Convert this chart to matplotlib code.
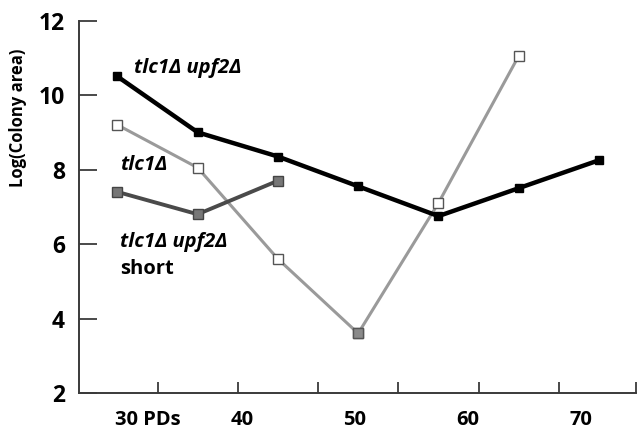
import numpy as np
import matplotlib
matplotlib.use('Agg')
import matplotlib.pyplot as plt
import matplotlib.transforms as mtransforms

plt.rcParams['font.family'] = ['Open Sans', 'DejaVu Sans']

# Data (x in population doublings)
pds = [29.0, 36.1, 43.2, 50.3, 57.4, 64.5, 71.6]
upf2 = [10.5, 9.0, 8.35, 7.55, 6.75, 7.5, 8.25]
tlc1 = [9.2, 8.05, 5.6, 3.6, 7.1, 11.05]
short = [7.4, 6.8, 7.7]

xtick_vals = [30, 40, 50, 60, 70]
xtick_labels = ['30 PDs', '40', '50', '60', '70']
ytick_vals = [2, 4, 6, 8, 10, 12]

fig = plt.figure(figsize=(6.42, 4.32), dpi=100)
ax = fig.add_axes([0.123, 0.0903, 0.868, 0.862])

axis_col = '#3a3a3a'

# tlc1 (light gray, open squares)
ax.plot(pds[:len(tlc1)], tlc1, color='#9a9a9a', lw=2.2, zorder=2)
ax.plot(pds[:len(tlc1)], tlc1, ls='none', marker='s', ms=6.5,
        mfc='white', mec='#555555', mew=1.0, zorder=4)
# the lowest point is drawn filled
ax.plot(pds[3], tlc1[3], ls='none', marker='s', ms=6.5,
        mfc='#8a8a8a', mec='#555555', mew=1.0, zorder=5)

# short (dark gray)
ax.plot(pds[:len(short)], short, color='#4a4a4a', lw=2.8, marker='s', ms=6.5,
        mfc='#777777', mec='#444444', mew=1.0, zorder=3)

# tlc1 upf2 (black)
ax.plot(pds, upf2, color='black', lw=3.2, marker='s', ms=6,
        mfc='black', mec='black', zorder=6)

ax.set_xlim(25.6, 74.9)
ax.set_ylim(2, 12)

for s in ['top', 'right']:
    ax.spines[s].set_visible(False)
for s in ['left', 'bottom']:
    ax.spines[s].set_color(axis_col)
    ax.spines[s].set_linewidth(1.4)

ax.set_yticks(ytick_vals)
ax.set_yticklabels([str(v) for v in ytick_vals], fontsize=16.5, fontweight='bold')
ax.tick_params(axis='y', direction='in', length=13, width=1.3, color=axis_col, pad=10)

# x: tick marks between the points, labels at PD values
mids = [(pds[i] + pds[i + 1]) / 2 for i in range(len(pds) - 1)] + [74.9]
ax.set_xticks(mids)
ax.set_xticklabels([])
ax.tick_params(axis='x', which='major', direction='in', length=8, width=1.3, color=axis_col)
ax.set_xticks(xtick_vals, minor=True)
ax.set_xticklabels(xtick_labels, minor=True, fontsize=14.5, fontweight='bold')
ax.tick_params(axis='x', which='minor', length=0, pad=12)
first = ax.xaxis.get_minorticklabels()[0]
first.set_horizontalalignment('left')
first.set_transform(first.get_transform() +
                    mtransforms.ScaledTranslation(-14 / 100, 0, fig.dpi_scale_trans))

ax.set_ylabel('Log(Colony area)', fontsize=12, fontweight='bold')
ax.yaxis.set_label_coords(-0.093, 0.74)

# series labels
ax.text(30.5, 10.6, 'tlc1\u0394 upf2\u0394', fontsize=14.5, fontweight='bold',
        fontstyle='italic', va='baseline')
ax.text(29.2, 8.0, 'tlc1\u0394', fontsize=14.5, fontweight='bold',
        fontstyle='italic', va='baseline')
ax.text(29.2, 5.92, 'tlc1\u0394 upf2\u0394', fontsize=14.5, fontweight='bold',
        fontstyle='italic', va='baseline')
ax.text(29.2, 5.2, 'short', fontsize=14.5, fontweight='bold', va='baseline')

plt.savefig('out.png', dpi=100)
